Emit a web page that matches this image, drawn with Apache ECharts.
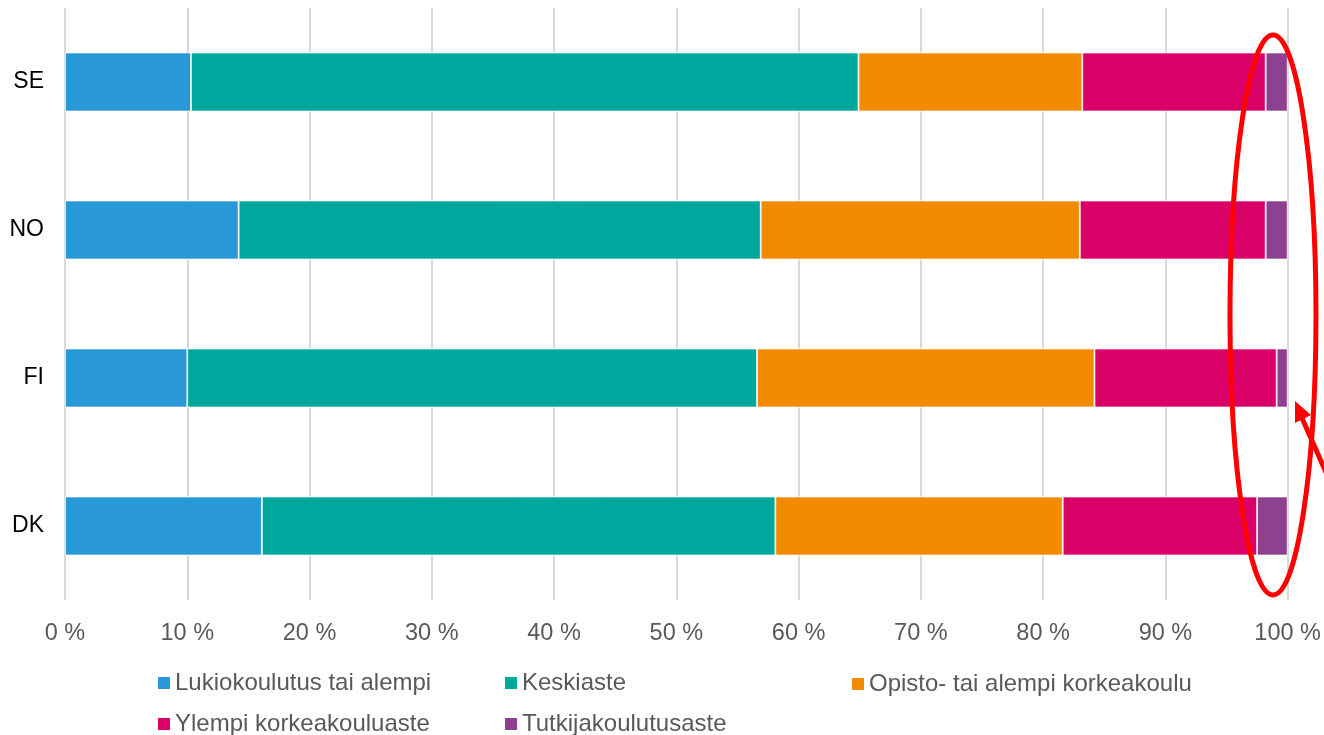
<!DOCTYPE html>
<html>
<head>
<meta charset="utf-8">
<script src="https://cdn.jsdelivr.net/npm/echarts@6/dist/echarts.min.js"></script>
<style>
  html, body { margin: 0; padding: 0; background: #fff; }
  #chart { width: 1324px; height: 735px; }
</style>
</head>
<body>
<div id="chart"></div>
<script>
// maat ylhäältä alas
const countries = ['SE', 'NO', 'FI', 'DK'];
const seriesNames = [
    'Lukiokoulutus tai alempi',
    'Keskiaste',
    'Opisto- tai alempi korkeakoulu',
    'Ylempi korkeakouluaste',
    'Tutkijakoulutusaste'
];
const colors = ['#2998d8', '#00a79d', '#f28a00', '#d90068', '#8e4190'];

// osuudet (%) maittain, samassa järjestyksessä kuin countries
const lukio = [10.3, 14.2, 10.0, 16.1];
const keskiaste = [54.6, 42.7, 46.6, 42.0];
const opisto = [18.3, 26.1, 27.6, 23.5];
const ylempi = [15.0, 15.2, 14.9, 15.9];
const tutkija = [1.8, 1.8, 0.9, 2.5];

const values = [lukio, keskiaste, opisto, ylempi, tutkija];

// legendan paikat: [left, top]
const legendPos = [[151, 666], [498, 666], [845, 667], [151, 707], [498, 707]];

let option = {
    animation: false,
    grid: {
        left: 65,
        right: 36,
        top: 8,
        bottom: 135
    },
    xAxis: {
        type: 'value',
        min: 0,
        max: 100,
        interval: 10,
        axisLine: { show: false },
        axisTick: { show: false },
        axisLabel: {
            formatter: '{value} %',
            color: '#595959',
            fontSize: 23.5,
            fontFamily: 'Liberation Sans',
            margin: 22
        },
        splitLine: {
            lineStyle: { color: '#d9d9d9', width: 2 }
        }
    },
    yAxis: {
        type: 'category',
        inverse: true,
        data: countries,
        axisLine: { show: false },
        axisTick: { show: false },
        axisLabel: {
            color: '#000',
            fontSize: 23,
            fontFamily: 'Liberation Sans',
            margin: 21,
            padding: [3, 0, 0, 0]
        }
    },
    legend: seriesNames.map(function (name, i) {
        return {
            data: [name],
            left: legendPos[i][0],
            top: legendPos[i][1],
            icon: 'rect',
            itemWidth: 14,
            itemHeight: 14,
            itemGap: 5,
            textStyle: {
                color: '#595959',
                fontSize: 24,
                fontFamily: 'Liberation Sans',
                padding: [0, 0, 0, -1]
            }
        };
    }),
    series: seriesNames.map(function (name, i) {
        return {
            name: name,
            type: 'bar',
            stack: 'total',
            barWidth: 59,
            itemStyle: {
                color: colors[i],
                borderColor: '#fff',
                borderWidth: 0.8
            },
            data: values[i]
        };
    }),
    graphic: [
        {
            type: 'ellipse',
            shape: { cx: 1273, cy: 315, rx: 43, ry: 280 },
            style: { fill: 'none', stroke: '#ff0000', lineWidth: 5 },
            z: 100
        },
        {
            type: 'line',
            shape: { x1: 1332, y1: 486, x2: 1302, y2: 418 },
            style: { stroke: '#ff0000', lineWidth: 5 },
            z: 100
        },
        {
            type: 'polygon',
            shape: { points: [[1295, 401], [1311, 415], [1295, 423]] },
            style: { fill: '#ff0000' },
            z: 100
        }
    ]
};

let myChart = echarts.init(document.getElementById('chart'));
myChart.setOption(option);
</script>
</body>
</html>
